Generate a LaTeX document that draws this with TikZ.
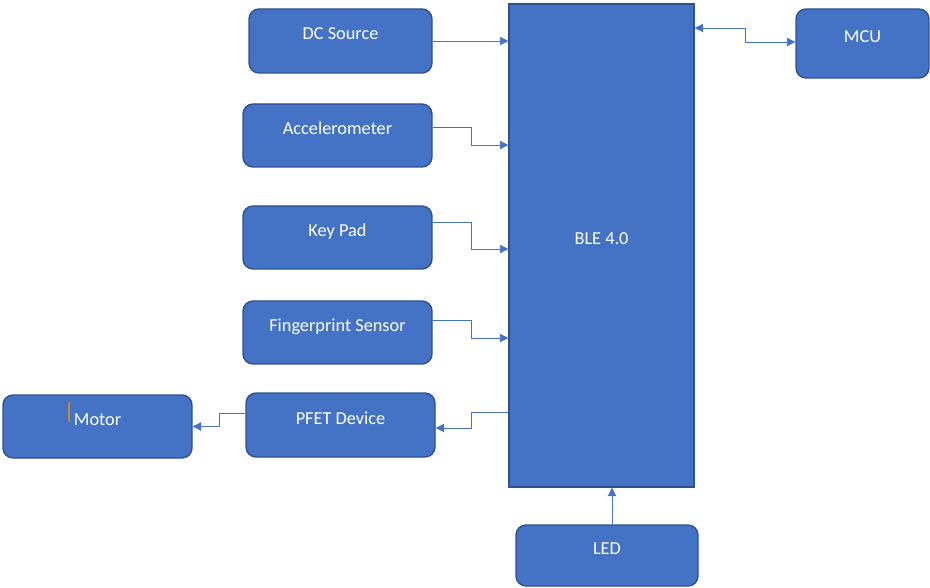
\documentclass[tikz,border=0pt]{standalone}
\usepackage{fontspec}
\setmainfont{Carlito}
\usetikzlibrary{arrows.meta}
\definecolor{boxfill}{HTML}{4472C4}
\definecolor{boxedge}{HTML}{2F528F}
\definecolor{wire}{HTML}{4472C4}
\definecolor{caret}{HTML}{C08A2C}
\tikzset{
  block/.style={draw=boxedge, line width=1.4pt, fill=boxfill, rounded corners=10pt,
    text=white, font=\fontsize{18.3}{21}\selectfont,
    text height=12pt, text depth=14pt, inner sep=0pt},
  bigblock/.style={block, rounded corners=0pt},
  conn/.style={draw=wire, line width=0.9pt, -{Triangle[length=8.5pt,width=8.5pt]}},
  dconn/.style={conn, {Triangle[length=8.5pt,width=8.5pt]}-{Triangle[length=8.5pt,width=8.5pt]}}
}
\begin{document}
\begin{tikzpicture}[x=1pt, y=-1pt]
\useasboundingbox (0,0) rectangle (930,588);

% central module
\node[bigblock, minimum width=185pt, minimum height=483pt] (ble) at (601.5,245.5) {BLE 4.0};

% input blocks
\node[block, minimum width=183pt, minimum height=64pt] (dc)   at (340.5,41)    {DC Source};
\node[block, minimum width=189pt, minimum height=63pt] (acc)  at (337.5,135.5) {Accelerometer};
\node[block, minimum width=189pt, minimum height=63pt] (key)  at (337.5,237.5) {Key Pad};
\node[block, minimum width=189pt, minimum height=63pt] (fp)   at (337.5,332.5) {Fingerprint Sensor};

% output chain
\node[block, minimum width=189pt, minimum height=64pt] (pfet) at (340.5,425)   {PFET Device};
\node[block, minimum width=189pt, minimum height=63pt] (motor) at (97.5,426.5) {Motor};

% side blocks
\node[block, minimum width=133pt, minimum height=69pt] (mcu)  at (862.5,43.5)  {MCU};
\node[block, minimum width=182pt, minimum height=61pt] (led)  at (607,555.5)   {LED};

% text caret left in the motor label
\draw[caret, line width=1.2pt] (69,402) -- (69,422);

% connectors into the module
\draw[conn] (dc.east) -- (dc.east -| ble.west);
\draw[conn] ([yshift=8.5pt]acc.east) -- ++(39,0) |- ([yshift=-9.5pt]acc.east -| ble.west);
\draw[conn] ([yshift=15.5pt]key.east) -- ++(39,0) |- ([yshift=-11.5pt]key.east -| ble.west);
\draw[conn] ([yshift=12pt]fp.east) -- ++(39,0) |- ([yshift=-5.5pt]fp.east -| ble.west);

% connectors out to the driver and motor
\draw[conn] ([yshift=13pt]pfet.east -| ble.west) -- ++(-37,0) |- ([yshift=-3pt]pfet.east);
\draw[conn] ([yshift=12pt]pfet.west) -- ++(-26,0) |- (motor.east);

% MCU link and LED input
\draw[dconn] ([yshift=15.5pt]mcu.west -| ble.east) -- ++(51,0) |- ([yshift=1.5pt]mcu.west);
\draw[conn] ([xshift=5pt]led.north) -- ([xshift=5pt]led.north |- ble.south);
\end{tikzpicture}
\end{document}
